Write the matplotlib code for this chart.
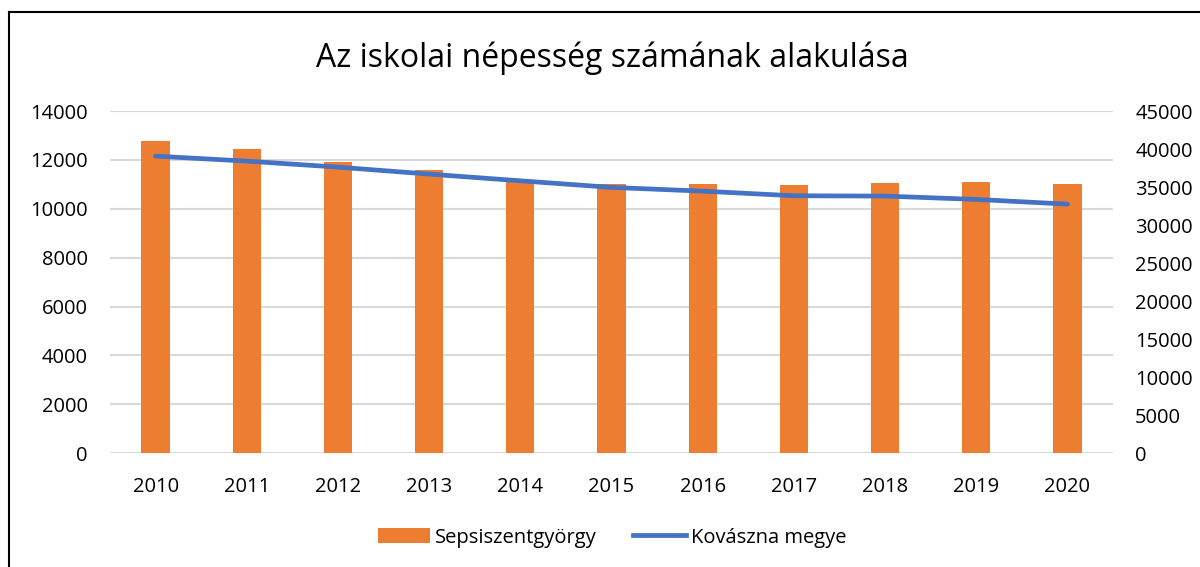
import numpy as np
import matplotlib.pyplot as plt
from matplotlib.lines import Line2D
from matplotlib.patches import Patch

plt.rcParams["font.family"] = ["Open Sans", "DejaVu Sans"]

years = ["2010", "2011", "2012", "2013", "2014", "2015",
         "2016", "2017", "2018", "2019", "2020"]
# Sepsiszentgyörgy school population (left axis)
sepsi = [12780, 12450, 11910, 11570, 11110, 11000, 11000, 10960, 11050, 11090, 11010]
# Kovászna county school population (right axis)
kovaszna = [39080, 38420, 37630, 36710, 35830, 34960, 34470, 33860, 33820, 33380, 32760]

left_ticks = np.arange(0, 14001, 2000)
right_ticks = np.arange(0, 45001, 5000)

BAR_COLOR = "#ED7D31"
LINE_COLOR = "#4472C4"
GRID_COLOR = "#D9D9D9"
TEXT_COLOR = "#000000"
FS = 14.5

fig = plt.figure(figsize=(12, 5.67), dpi=100)
ax = fig.add_axes([0.0917, 0.201, 0.8358, 0.603])
ax2 = ax.twinx()

x = np.arange(len(years))
ax.bar(x, sepsi, width=0.31, color=BAR_COLOR, zorder=2)
ax2.plot(x, kovaszna, color=LINE_COLOR, lw=3.4, solid_capstyle="round", zorder=3)

ax.set_xlim(-0.5, len(years) - 0.5)
ax.set_ylim(0, 14000)
ax2.set_ylim(0, 45000)
ax.set_yticks(left_ticks)
ax2.set_yticks(right_ticks)
ax.set_xticks(x)
ax.set_xticklabels(years)

ax.yaxis.grid(True, color=GRID_COLOR, lw=1.5, zorder=0)
ax.set_axisbelow(True)
for a in (ax, ax2):
    for side in ("top", "right", "left", "bottom"):
        a.spines[side].set_visible(False)
    a.tick_params(length=0, labelsize=FS, colors=TEXT_COLOR)
ax.tick_params(axis="x", pad=17)
ax.tick_params(axis="y", pad=16)
ax2.tick_params(axis="y", pad=16)
ax2.set_zorder(ax.get_zorder() + 1)
ax2.patch.set_visible(False)

fig.suptitle("Az iskolai népesség számának alakulása", fontsize=23,
             x=0.51, y=0.927, color=TEXT_COLOR)

handles = [Patch(facecolor=BAR_COLOR, label="Sepsiszentgyörgy"),
           Line2D([0], [0], color=LINE_COLOR, lw=3.4, label="Kovászna megye")]
fig.legend(handles=handles, loc="center", bbox_to_anchor=(0.51, 0.052),
           ncol=2, frameon=False, fontsize=FS, handlelength=2.6,
           handleheight=0.75, handletextpad=0.25, columnspacing=1.8)

# outer frame of the chart area
fig.add_artist(Line2D([9 / 1200, 9 / 1200], [0, 1 - 12 / 567],
                      transform=fig.transFigure, color="black", lw=1.5))
fig.add_artist(Line2D([9 / 1200, 1], [1 - 12 / 567, 1 - 12 / 567],
                      transform=fig.transFigure, color="black", lw=1.5))

fig.savefig("out.png", dpi=100)
